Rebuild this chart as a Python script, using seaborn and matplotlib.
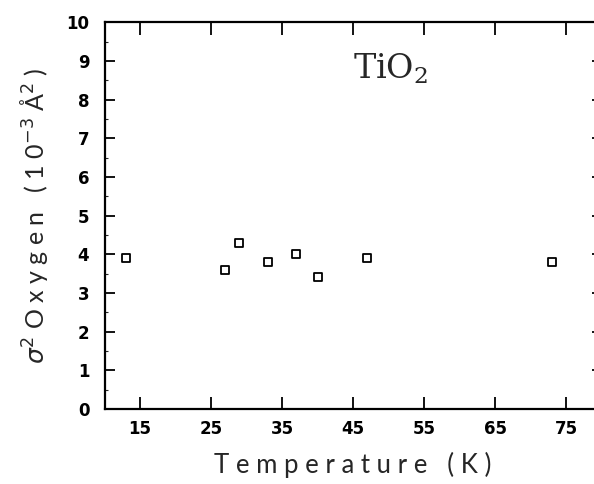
import pandas as pd
import seaborn as sns
import matplotlib.pyplot as plt
from matplotlib.ticker import MultipleLocator

# ---------------- data ---------------- #
temperature = [13, 27, 29, 33, 37, 40, 47, 73]
sigma2_oxygen = [3.9, 3.6, 4.3, 3.8, 4.0, 3.4, 3.9, 3.8]
x_ticks = [15, 25, 35, 45, 55, 65, 75]
y_ticks = [0, 1, 2, 3, 4, 5, 6, 7, 8, 9, 10]

df = pd.DataFrame({"T": temperature, "sigma2": sigma2_oxygen})

sns.set_style("white")
plt.rcParams["font.family"] = ["Lato", "DejaVu Sans"]
plt.rcParams["mathtext.fontset"] = "dejavusans"

fig = plt.figure(figsize=(5.94, 4.84), dpi=100)
ax = fig.add_axes([0.176, 0.155, 0.837, 0.799])

sns.scatterplot(data=df, x="T", y="sigma2", ax=ax, marker="s", s=28,
                facecolor="white", edgecolor="black", linewidth=1.3, legend=False)

ax.set_xlim(10, 80)
ax.set_ylim(0, 10)
ax.set_xticks(x_ticks)
ax.set_yticks(y_ticks)
ax.yaxis.set_minor_locator(MultipleLocator(0.5))

for s in ax.spines.values():
    s.set_color("black")
    s.set_linewidth(1.6)

ax.tick_params(axis="x", which="major", direction="in", length=9, width=1.3,
               top=True, bottom=True, pad=8, colors="black")
ax.tick_params(axis="y", which="major", direction="in", length=7, width=1.3,
               left=True, right=True, pad=11, colors="black")
ax.tick_params(axis="y", which="minor", direction="in", length=2, width=0.8,
               left=True, right=False)
for lab in ax.get_xticklabels() + ax.get_yticklabels():
    lab.set_family("DejaVu Sans")
    lab.set_fontweight("bold")
    lab.set_fontsize(12)

ax.set_xlabel("T e m p e r a t u r e   ( K )", fontsize=18.5, labelpad=10)
ax.set_ylabel(r"$\sigma^2$ O x y g e n   ( 1 0$^{-3}$ Å$^2$ )", fontsize=18, labelpad=12)

ax.text(45, 8.55, r"TiO$_\mathregular{2}$", fontsize=24, family="DejaVu Serif",
        ha="left", va="baseline")

fig.savefig("out.png", dpi=100)
